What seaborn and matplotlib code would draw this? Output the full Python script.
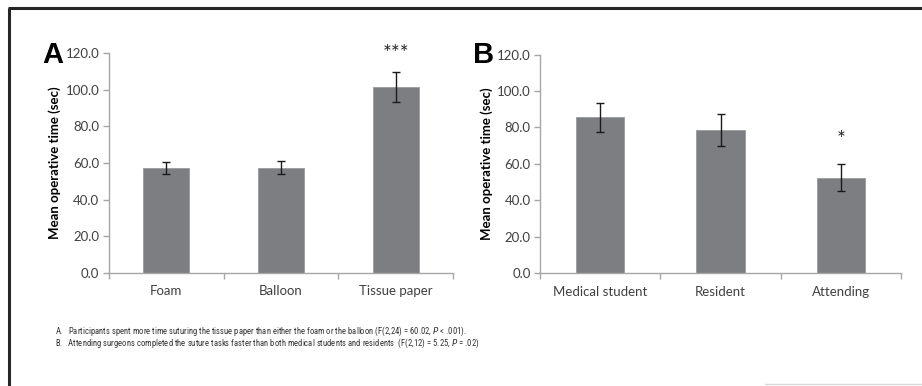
import matplotlib
matplotlib.use("Agg")
import matplotlib.pyplot as plt
from matplotlib.ticker import MultipleLocator, FixedLocator, FormatStrFormatter
import seaborn as sns
import pandas as pd

# Panel A: surgical model material
materials = ["Foam", "Balloon", "Tissue paper"]
material_means = [57.2, 57.5, 101.6]
material_err = [3.3, 3.4, 8.0]

# Panel B: operator experience level
levels = ["Medical student", "Resident", "Attending"]
level_means = [85.5, 78.6, 52.5]
level_err = [8.0, 9.0, 7.4]

panel_letters = ["A", "B"]
significance = ["***", "*"]
ylabel = "Mean operative time (sec)"
captions = [
    "A.   Participants spent more time suturing the tissue paper than either the foam or the balloon (F(2,24) = 60.02, $\\it{P}$ < .001).",
    "B.   Attending surgeons completed the suture tasks faster than both medical students and residents  (F(2,12) = 5.25, $\\it{P}$ = .02)",
]

sns.set_theme(style="white")
plt.rcParams["font.family"] = ["Lato", "DejaVu Sans"]

BAR = "#7d7e82"
AXIS = "#a6a6a6"
TEXT = "#404040"

fig = plt.figure(figsize=(9.22, 3.86), dpi=100)
fig.patch.set_facecolor("white")

# outer frame
fig.add_artist(plt.Line2D([8.5 / 922, 8.5 / 922], [0, 1 - 8 / 386], color="#262626", lw=2.2,
                          transform=fig.transFigure, solid_capstyle="butt"))
fig.add_artist(plt.Line2D([7.5 / 922, 1], [1 - 8 / 386, 1 - 8 / 386], color="#262626", lw=2.2,
                          transform=fig.transFigure, solid_capstyle="butt"))
fig.add_artist(plt.Line2D([765 / 922, 1], [1 - 384 / 386, 1 - 384 / 386], color="#d9d9d9", lw=1,
                          transform=fig.transFigure))

axA = fig.add_axes([109 / 922, 1 - 272.7 / 386, (453 - 109) / 922, (272.7 - 53.3) / 386])
axB = fig.add_axes([540.3 / 922, 1 - 273.3 / 386, (900.7 - 540.3) / 922, (273.3 - 54.5) / 386])

panels = [
    (axA, materials, material_means, material_err),
    (axB, levels, level_means, level_err),
]

for i, (ax, cats, means, errs) in enumerate(panels):
    df = pd.DataFrame({"cat": cats, "val": means})
    sns.barplot(data=df, x="cat", y="val", ax=ax, color=BAR, width=0.4,
                saturation=1, errorbar=None, edgecolor="#9a9b9e", linewidth=0.6)
    ax.errorbar(range(len(cats)), means, yerr=errs, fmt="none", ecolor="#1a1a1a",
                elinewidth=1.0, capsize=3, capthick=1.0)
    ax.set_ylim(0, 120)
    ax.set_xlim(-0.5, 2.5)
    ax.yaxis.set_major_locator(MultipleLocator(20))
    ax.yaxis.set_major_formatter(FormatStrFormatter("%.1f"))
    ax.xaxis.set_minor_locator(FixedLocator([-0.5, 0.5, 1.5, 2.5]))
    ax.set_xlabel("")
    ax.set_ylabel(ylabel, fontsize=9.5, fontweight="bold", color="black", labelpad=3)
    for s in ["top", "right"]:
        ax.spines[s].set_visible(False)
    for s in ["left", "bottom"]:
        ax.spines[s].set_color(AXIS)
        ax.spines[s].set_linewidth(1.0)
    ax.tick_params(axis="y", which="major", length=4, width=1, color=AXIS, direction="out",
                   labelsize=9.5, labelcolor=TEXT, pad=3, left=True)
    ax.tick_params(axis="x", which="major", length=0, labelsize=9.5, labelcolor=TEXT, pad=9)
    ax.tick_params(axis="x", which="minor", length=4, width=1, color=AXIS, direction="out", bottom=True)
    ax.grid(False)
    ax.set_facecolor("white")

    # significance marker above the last bar
    j = len(cats) - 1
    ax.text(j, means[j] + errs[j] + (10 if i == 0 else 13), significance[i], ha="center", va="center",
            fontsize=15, color="#262626")

# panel letters
fig.text(42 / 922, 1 - 63 / 386, panel_letters[0], fontsize=21, fontweight="bold",
         family="Liberation Sans", color="black", ha="left", va="baseline")
fig.text(473 / 922, 1 - 63 / 386, panel_letters[1], fontsize=21, fontweight="bold",
         family="Liberation Sans", color="black", ha="left", va="baseline")

# captions
for k, line in enumerate(captions):
    fig.text(55 / 922, 1 - (331.5 + 12 * k) / 386, line, fontsize=6.2,
             family=["Roboto Condensed", "DejaVu Sans"], fontstretch="condensed",
             color="#333333", ha="left", va="center")

fig.savefig("out.png", dpi=100, facecolor="white")
